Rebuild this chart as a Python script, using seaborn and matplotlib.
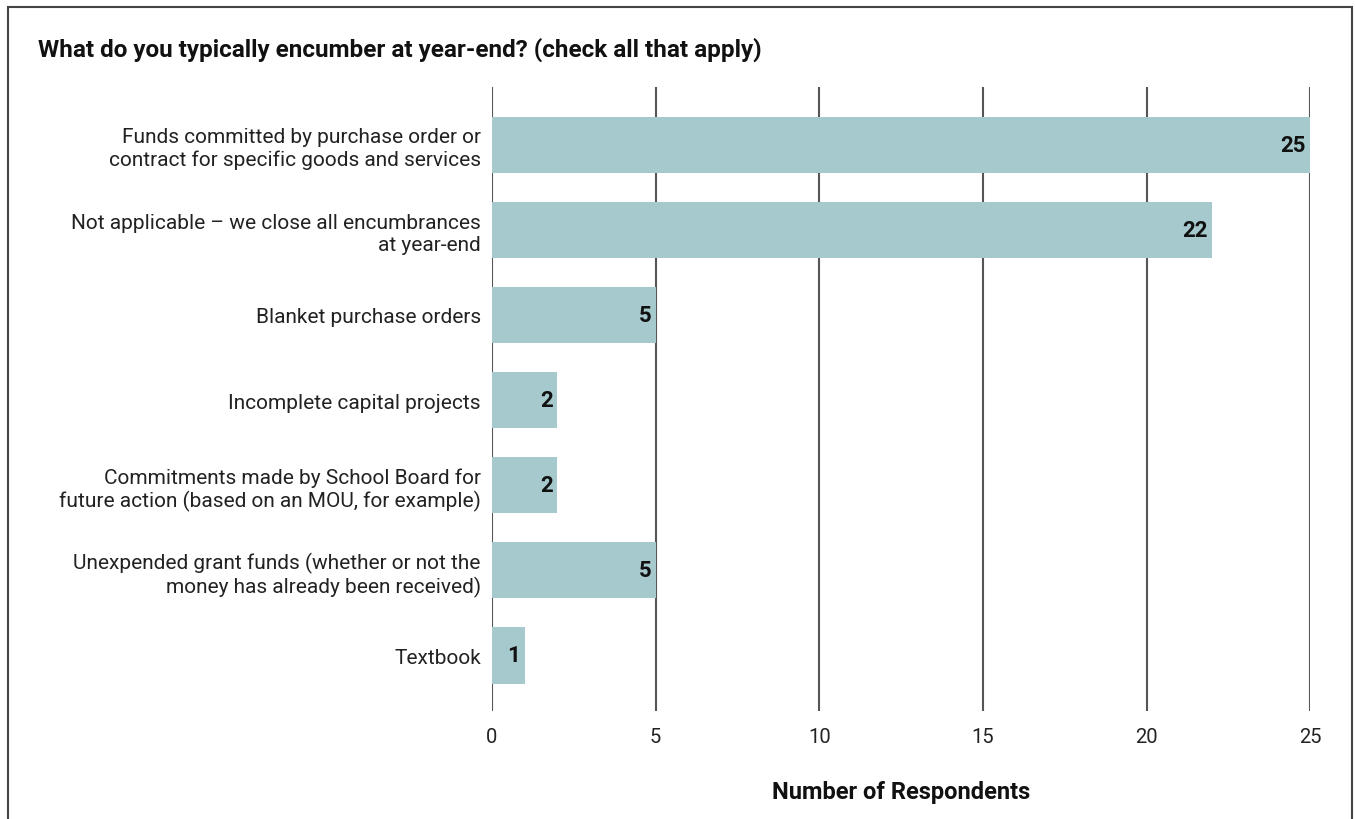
import matplotlib
matplotlib.use("Agg")
import matplotlib.pyplot as plt
import seaborn as sns
import pandas as pd
from matplotlib.patches import Rectangle

categories = [
    "Funds committed by purchase order or\ncontract for specific goods and services",
    "Not applicable \u2013 we close all encumbrances\nat year-end",
    "Blanket purchase orders",
    "Incomplete capital projects",
    "Commitments made by School Board for\nfuture action (based on an MOU, for example)",
    "Unexpended grant funds (whether or not the\nmoney has already been received)",
    "Textbook",
]
values = [25, 22, 5, 2, 2, 5, 1]
xticks = [0, 5, 10, 15, 20, 25]
title = "What do you typically encumber at year-end? (check all that apply)"
xlabel = "Number of Respondents"

sns.set_theme(style="white")
plt.rcParams['font.family'] = ['Roboto', 'DejaVu Sans']

df = pd.DataFrame({"cat": categories, "val": values})

fig = plt.figure(figsize=(13.55, 8.2), dpi=100)
ax = fig.add_axes([0.363, 0.132, 0.604, 0.761])

sns.barplot(data=df, y="cat", x="val", orient="h", color="#a5c9cd",
            saturation=1, width=0.66, ax=ax, zorder=2, linewidth=0)

ax.set_xlim(0, 25)
ax.set_ylim(6.65, -0.68)
ax.set_xticks(xticks)
ax.set_xticklabels([str(t) for t in xticks], fontsize=14.5, color="#222222")
ax.tick_params(axis='x', length=0, pad=12)
ax.tick_params(axis='y', length=0, pad=8)
for lbl in ax.get_yticklabels():
    lbl.set_fontsize(15)
    lbl.set_color("#222222")
    lbl.set_horizontalalignment("right")
    lbl.set_multialignment("right")
for s in ax.spines.values():
    s.set_visible(False)
ax.set_ylabel("")
ax.set_xlabel(xlabel, fontsize=17, fontweight="bold", color="#111111", labelpad=24)
for t in xticks:
    ax.axvline(t, color="#555555", lw=1.5, zorder=1)

for i, v in enumerate(values):
    ax.annotate(str(v), xy=(v, i), xytext=(-3, 0), textcoords="offset points",
                ha="right", va="center", fontsize=16, fontweight="bold", color="#111111")

fig.text(38 / 1355, 1 - 50 / 820, title, fontsize=17.5, fontweight="bold",
         color="#111111", ha="left", va="center")

fig.patches.append(Rectangle((8 / 1355, -0.05), (1352 - 8) / 1355, 1.05 - 8 / 820,
                             transform=fig.transFigure, fill=False,
                             edgecolor="#444444", lw=1.5))

fig.savefig("out.png", dpi=100, facecolor="white")
